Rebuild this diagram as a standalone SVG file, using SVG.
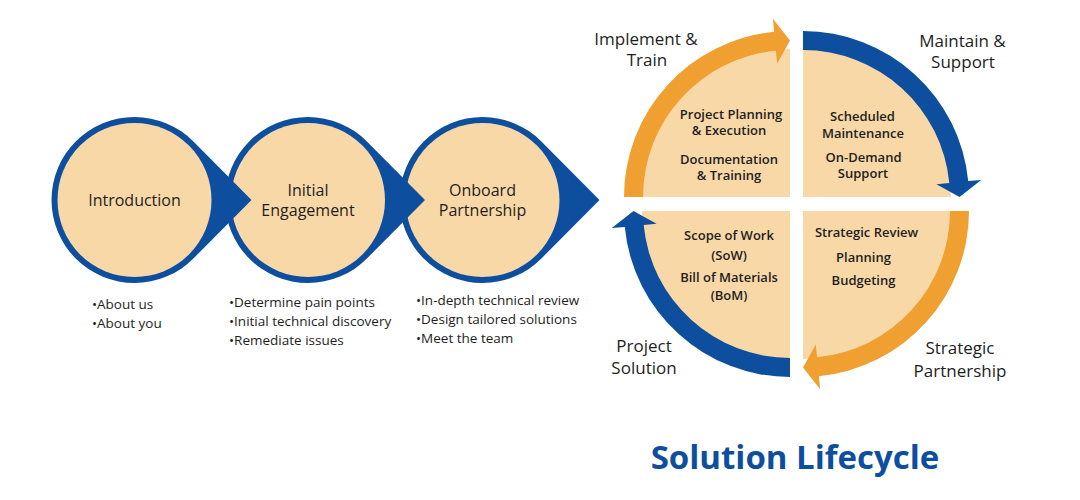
<svg xmlns="http://www.w3.org/2000/svg" width="1080" height="500" viewBox="0 0 1080 500">
<style>
.blue{fill:#0D4F9E}
.orange{fill:#EFA030}
.beige{fill:#F9D8A7}
.t{font-family:"Open Sans","Noto Sans",sans-serif;fill:#1e1e1e;text-anchor:middle}
.big{font-size:16px}
.side{font-size:17px}
.q{font-size:13px;font-weight:600}
.b{font-family:"Open Sans","Noto Sans",sans-serif;fill:#1e1e1e;font-size:13.5px}
.title{font-family:"Open Sans","Noto Sans",sans-serif;font-weight:700;font-size:33px;fill:#0D4F9E;text-anchor:middle}
</style>
<rect width="1080" height="500" fill="#ffffff"/>

<g id="onboard-partnership">
<path class="blue" d="M541.4,141.5 L599.5,200 L541.4,258.5 A83,83 0 1 1 541.4,141.5 Z"/>
<circle class="beige" cx="482.5" cy="200" r="77"/>
<text class="t big" x="482.5" y="195.5">Onboard</text>
<text class="t big" x="482.5" y="216">Partnership</text>
</g>
<g id="initial-engagement">
<path class="blue" d="M366.9,141.5 L425,200 L366.9,258.5 A83,83 0 1 1 366.9,141.5 Z"/>
<circle class="beige" cx="308" cy="200" r="77"/>
<text class="t big" x="308" y="195.5">Initial</text>
<text class="t big" x="308" y="216">Engagement</text>
</g>
<g id="introduction">
<path class="blue" d="M193.4,141.5 L251.5,200 L193.4,258.5 A83,83 0 1 1 193.4,141.5 Z"/>
<circle class="beige" cx="134.5" cy="200" r="77"/>
<text class="t big" x="134.5" y="205.5">Introduction</text>
</g>

<g id="bullets">
<text class="b" x="92" y="308.5">•About us</text>
<text class="b" x="92" y="327.5">•About you</text>
<text class="b" x="229" y="306.5">•Determine pain points</text>
<text class="b" x="229" y="325.5">•Initial technical discovery</text>
<text class="b" x="229" y="344.5">•Remediate issues</text>
<text class="b" x="416" y="304.5">•In-depth technical review</text>
<text class="b" x="416" y="323.5">•Design tailored solutions</text>
<text class="b" x="416" y="342.5">•Meet the team</text>
</g>

<g id="implement-train">
<path class="beige" d="M790,197 L642,197 A148,148 0 0 1 790,49 Z"/>
<text class="t q" x="731" y="118.5">Project Planning</text>
<text class="t q" x="729" y="135">&amp; Execution</text>
<text class="t q" x="729" y="163.5">Documentation</text>
<text class="t q" x="729" y="180">&amp; Training</text>
<text class="t side" x="646" y="45">Implement &amp;</text>
<text class="t side" x="647" y="66">Train</text>
</g>
<g id="maintain-support">
<path class="beige" d="M803,197 L803,49 A148,148 0 0 1 951,197 Z"/>
<text class="t q" x="862.5" y="120.5">Scheduled</text>
<text class="t q" x="863" y="137.5">Maintenance</text>
<text class="t q" x="863.5" y="161.5">On-Demand</text>
<text class="t q" x="863" y="178">Support</text>
<text class="t side" x="962.5" y="47">Maintain &amp;</text>
<text class="t side" x="963" y="68">Support</text>
</g>
<g id="strategic-partnership">
<path class="beige" d="M803,211 L951,211 A148,148 0 0 1 803,359 Z"/>
<text class="t q" x="866.5" y="236.5">Strategic Review</text>
<text class="t q" x="863.5" y="261.5">Planning</text>
<text class="t q" x="863.5" y="284.5">Budgeting</text>
<text class="t side" x="960" y="354">Strategic</text>
<text class="t side" x="960" y="377">Partnership</text>
</g>
<g id="project-solution">
<path class="beige" d="M790,211 L790,359 A148,148 0 0 1 642,211 Z"/>
<text class="t q" x="729" y="239.5">Scope of Work</text>
<text class="t q" x="729" y="259.5">(SoW)</text>
<text class="t q" x="729" y="281.5">Bill of Materials</text>
<text class="t q" x="729" y="299.5">(BoM)</text>
<text class="t side" x="644" y="352">Project</text>
<text class="t side" x="644" y="374">Solution</text>
</g>

<g id="connectors">
<path class="orange" d="M624,197 A166,166 0 0 1 774.1,31.8 L772.9,18.8 L790,40.5 L777.2,63.6 L775.9,50.7 A147,147 0 0 0 643,197 Z"/>
<path class="blue" d="M803,31 A166,166 0 0 1 968.2,181.1 L981.2,179.9 L959.5,197 L936.4,184.2 L949.3,182.9 A147,147 0 0 0 803,50 Z"/>
<path class="orange" d="M969,211 A166,166 0 0 1 818.9,376.2 L820.1,389.2 L803,367.5 L815.8,344.4 L817.1,357.3 A147,147 0 0 0 950,211 Z"/>
<path class="blue" d="M790,377 A166,166 0 0 1 624.8,226.9 L611.8,228.1 L633.5,211 L656.6,223.8 L643.7,225.1 A147,147 0 0 0 790,358 Z"/>
</g>

<text class="title" x="795" y="469">Solution Lifecycle</text>
</svg>
